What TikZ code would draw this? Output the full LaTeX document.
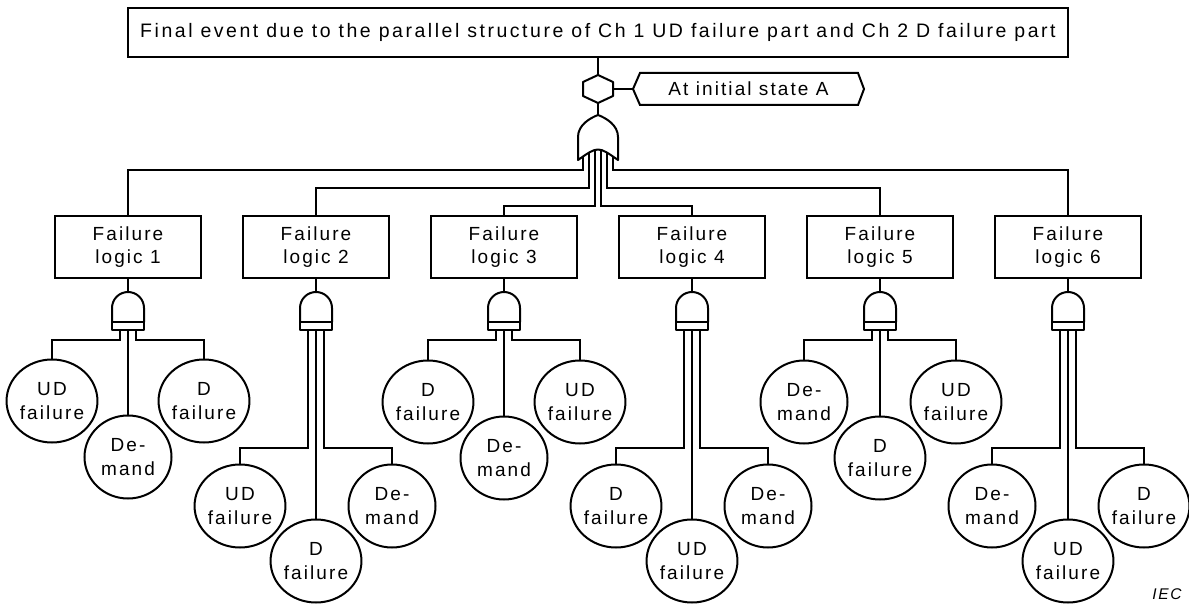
\documentclass[tikz,border=0pt]{standalone}
\usepackage{fontspec}
\setmainfont[LetterSpace=11]{Liberation Sans}
\newfontfamily\topfont[LetterSpace=13]{Liberation Sans}
\usetikzlibrary{shapes.geometric}
\tikzset{
  topbox/.style={draw, line width=2pt, minimum width=940pt, minimum height=49pt, inner sep=0pt,
    font=\topfont\fontsize{19.5}{24}\selectfont},
  flbox/.style={draw, line width=2pt, minimum width=146pt, minimum height=62pt, align=center, inner sep=0pt},
  ev/.style={draw, ellipse, line width=2pt, minimum width=87pt, minimum height=83pt, align=center, inner sep=0pt},
  gatestyle/.style={draw, line width=2pt, fill=white, line join=round},
  condtext/.style={inner sep=0pt},
  iec/.style={font=\fontsize{15.5}{18}\selectfont\itshape},
  andgate/.pic={
    \path[gatestyle] (-16,30) -- (-16,16) .. controls (-16,7.16) and (-8.84,0) .. (0,0)
      .. controls (8.84,0) and (16,7.16) .. (16,16) -- (16,30) -- cycle;
    \path[gatestyle] (-16,30) rectangle (16,38);
    \coordinate (-in) at (0,0);
    \coordinate (-l) at (-8,38);
    \coordinate (-m) at (0,38);
    \coordinate (-r) at (8,38);
  }
}
\begin{document}
\begin{tikzpicture}[x=1pt, y=-1pt, line width=2pt, font=\fontsize{19}{23.5}\selectfont]
\useasboundingbox (0,0) rectangle (1189,604);

% top event
\node[topbox] (top) at (598,32.5) {Final event due to the parallel structure of Ch 1 UD failure part and Ch 2 D failure part};

% inhibit (hexagon) gate and condition
\coordinate (hexT) at (598,75);
\coordinate (hexB) at (598,103);
\coordinate (hexR) at (613,89);
\path[gatestyle] (583,82) -- (598,75) -- (613,82) -- (613,96) -- (598,103) -- (583,96) -- cycle;
\draw (top.south) -- (hexT);
\node[condtext] (cond) at (748.5,89) {At initial state A};
\draw[line join=miter] (633,89) -- (640,73) -- (858,73) -- (864,89) -- (858,105) -- (640,105) -- cycle;
\coordinate (condL) at (633,89);
\draw (hexR) -- (condL);

% OR gate
\coordinate (orT) at (598,115);
\draw (hexB) -- (orT);
\coordinate (o1) at (583,150);
\coordinate (o2) at (589,150);
\coordinate (o3) at (595,150);
\coordinate (o4) at (601,150);
\coordinate (o5) at (607,150);
\coordinate (o6) at (613,150);

% failure logic boxes, AND gates and basic events
\foreach \i/\cx/\drop/\sy/\my/\la/\lb/\lc in {
  1/128/10/401/457/{UD\\failure}/{De-\\mand}/{D\\failure},
  2/316/118/506/561/{UD\\failure}/{D\\failure}/{De-\\mand},
  3/504/10/402/458/{D\\failure}/{De-\\mand}/{UD\\failure},
  4/692/118/506/561/{D\\failure}/{UD\\failure}/{De-\\mand},
  5/880/10/402/458/{De-\\mand}/{D\\failure}/{UD\\failure},
  6/1068/118/506/561/{De-\\mand}/{UD\\failure}/{D\\failure}}
{
  \node[flbox] (fl\i) at (\cx,247) {Failure\\logic \i};
  \pic (g\i) at (\cx,292) {andgate};
  \draw (fl\i.south) -- (g\i-in);
  \node[ev] (e\i-a) at (\cx-76,\sy) {\la};
  \node[ev] (e\i-b) at (\cx,\my) {\lb};
  \node[ev] (e\i-c) at (\cx+76,\sy) {\lc};
  \draw (g\i-l) -- ++(0,\drop) -| (e\i-a.north);
  \draw (g\i-m) -- (e\i-b.north);
  \draw (g\i-r) -- ++(0,\drop) -| (e\i-c.north);
}

% OR gate outputs to failure logic boxes
\draw (o1) -- ++(0,20) -| (fl1.north);
\draw (o2) -- ++(0,38) -| (fl2.north);
\draw (o3) -- ++(0,56) -| (fl3.north);
\draw (o4) -- ++(0,56) -| (fl4.north);
\draw (o5) -- ++(0,38) -| (fl5.north);
\draw (o6) -- ++(0,20) -| (fl6.north);

% OR gate body (drawn over the wire starts)
\path[gatestyle] (578,160) -- (578,137) .. controls (578,125) and (590,118) .. (598,115)
  .. controls (606,118) and (618,125) .. (618,137) -- (618,160)
  .. controls (598,146) .. (578,160) -- cycle;

\node[iec] (iec) at (1167,594) {IEC};
\end{tikzpicture}
\end{document}
